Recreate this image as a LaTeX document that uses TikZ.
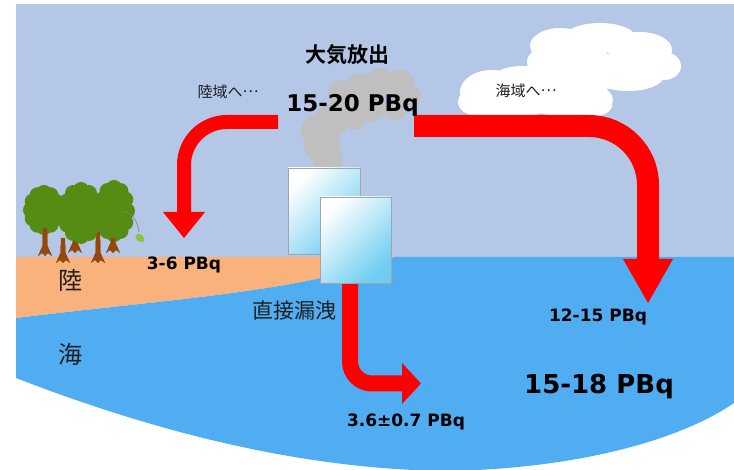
\documentclass[tikz,border=0pt]{standalone}
\usepackage{fontspec}
\setmainfont{Noto Sans CJK JP}[BoldFont={Noto Sans CJK JP Bold}]
\newfontfamily\numfont{DejaVu Sans}

\definecolor{sky}{RGB}{180,199,231}
\definecolor{land}{RGB}{250,178,125}
\definecolor{sea}{RGB}{80,173,242}
\definecolor{smoke}{RGB}{191,191,191}
\definecolor{crown}{RGB}{86,140,20}
\definecolor{bark}{RGB}{150,72,12}
\definecolor{leaflight}{RGB}{140,195,60}
\definecolor{glass}{RGB}{110,205,240}
\definecolor{frame}{RGB}{160,165,170}

\newcommand{\middots}{\raisebox{0.3em}{…}}

\tikzset{
  jp/.style={font=\fontsize{#1}{#1}\selectfont, inner sep=0pt, anchor=base, text=black!88},
  jpb/.style={font=\bfseries\fontsize{#1}{#1}\selectfont, inner sep=0pt, anchor=base},
  num/.style={font=\numfont\bfseries\fontsize{#1}{#1}\selectfont, inner sep=0pt, anchor=base},
  flow/.style={draw=red, line width=#1, line cap=butt},
  flowhead/.style={fill=red},
  building/.style={draw=frame, line width=0.9pt, top color=white, bottom color=glass, shading angle=45},
}

\begin{document}
\begin{tikzpicture}[x=1pt,y=-1pt]
\useasboundingbox (0,0) rectangle (734,470);

% sky
\fill[sky] (16,4) rectangle (734,258);

% clouds
\fill[white]
  \foreach \cx/\cy/\rx/\ry in {
    560/46/30/18, 600/38/36/15, 640/50/32/18, 664/66/17/14, 628/76/36/15,
    576/66/40/20, 545/62/18/14,
    492/92/32/22, 478/102/20/14, 522/84/34/18, 562/92/46/24, 578/106/34/13,
    600/100/13/12, 505/108/42/10} {
    (\cx,\cy) ellipse[x radius=\rx pt, y radius=\ry pt]
  };

% smoke
\fill[smoke]
  \foreach \cx/\cy/\r in {
    327/158/15, 322/145/18, 316/130/15, 330/122/17, 345/108/16, 340/92/12,
    360/88/15, 380/82/14, 400/84/14, 410/96/11, 395/108/12, 370/108/14, 355/120/10} {
    (\cx,\cy) circle[radius=\r pt]
  };

% land and sea
\fill[land] (16,257) -- (395,257) .. controls (300,292) and (180,298) .. (16,318) -- cycle;
\fill[sea] (16,318) .. controls (180,298) and (300,292) .. (395,257) -- (734,257)
  -- (734,403) .. controls (680,440) and (580,468) .. (450,471)
  .. controls (300,470) and (150,430) .. (16,378) -- cycle;

% trees: trunks, then scalloped crowns
\foreach \bx/\ty/\by in {45/222/256, 63/238/263, 75/238/253, 98/230/263, 113/234/253} {
  \fill[bark] (\bx-2,\ty) -- (\bx+2,\ty) -- (\bx+2.5,\by-10) -- (\bx+7,\by) -- (\bx+3,\by-3)
    -- (\bx,\by) -- (\bx-3,\by-3) -- (\bx-7,\by) -- (\bx-2.5,\by-10) -- cycle;
}
\foreach \cx/\cy/\rx/\ry in {44/210/13/17, 81/213/16/23, 114/211/13/23} {
  \fill[crown] (\cx,\cy) ellipse[x radius=\rx pt+3pt, y radius=\ry pt+3pt];
  \fill[crown] \foreach \a in {0,30,...,330} {
    ({\cx+\rx*cos(\a)},{\cy+\ry*sin(\a)}) circle[radius=8pt]
  };
}
\foreach \bx/\ty/\by in {45/228/256, 63/244/263, 75/242/253, 98/238/263, 113/238/253} {
  \fill[bark] (\bx-2.2,\ty) -- (\bx+2.2,\ty) -- (\bx+2.5,\by-10) -- (\bx+7,\by) -- (\bx+3,\by-3)
    -- (\bx,\by) -- (\bx-3,\by-3) -- (\bx-7,\by) -- (\bx-2.5,\by-10) -- cycle;
}
\draw[gray, line width=0.6pt] (122,211) .. controls (132,212) and (138,222) .. (139,232);
\fill[leaflight, rotate around={-40:(140,238)}] (140,238) ellipse[x radius=5pt, y radius=3.5pt];

% flows
\coordinate (srcL) at (278,122);
\coordinate (bendL) at (184,122);
\coordinate (endL) at (184,213);
\draw[flow=14pt, rounded corners=43pt] (srcL) -- (bendL) -- (endL);
\fill[flowhead] (163,212) -- (205,212) -- (184,238) -- cycle;

\coordinate (srcR) at (414,126);
\coordinate (bendR) at (648,126);
\coordinate (endR) at (648,260);
\draw[flow=22pt, rounded corners=59pt] (srcR) -- (bendR) -- (endR);
\fill[flowhead] (623,259) -- (673,259) -- (648,303) -- cycle;

\coordinate (srcD) at (350,275);
\coordinate (bendD) at (350,383.5);
\coordinate (endD) at (403,383.5);
\draw[flow=16pt, rounded corners=22pt] (srcD) -- (bendD) -- (endD);
\fill[flowhead] (402,363) -- (402,404) -- (421,383.5) -- cycle;

% plant buildings
\draw[building] (288,168) rectangle (360,254);
\draw[building] (320,197) rectangle (391,283);

% labels
\node[jpb=21] (release) at (347,62.5) {大気放出};
\node[num=23] (total) at (352.5,112) {15-20 PBq};
\node[jp=15] (toland) at (228,97.5) {陸域へ\middots};
\node[jp=15] (tosea) at (526,96.5) {海域へ\middots};
\node[num=17] (landval) at (184,270) {3-6 PBq};
\node[jp=24] (landlbl) at (70,290) {陸};
\node[jp=24] (sealbl) at (70,363) {海};
\node[jp=21] (leak) at (294,318.5) {直接漏洩};
\node[num=17] (seaval) at (598,322) {12-15 PBq};
\node[num=26] (seatotal) at (599,393) {15-18 PBq};
\node[num=17] (leakval) at (406,427) {3.6±0.7 PBq};
\end{tikzpicture}
\end{document}
